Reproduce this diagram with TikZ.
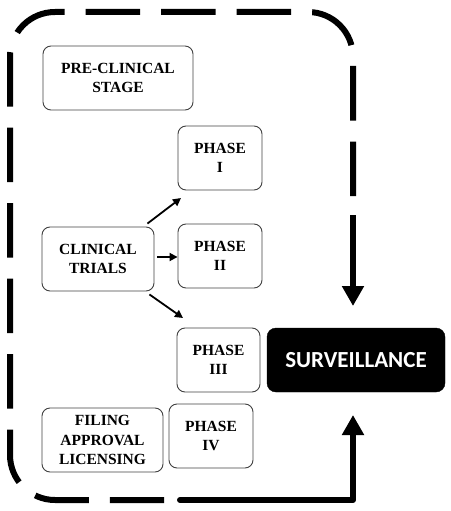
\documentclass[tikz,border=0pt]{standalone}
\usepackage{fontspec}
\setmainfont{Liberation Serif}
\newfontfamily\stagefont{Liberation Serif}[UprightFont={* Bold}]
\newfontfamily\survfont{Carlito}[UprightFont={* Bold}]
\usetikzlibrary{arrows.meta}
\begin{document}
\begin{tikzpicture}[x=1pt,y=-1pt,
  stagebox/.style={draw=black!75, line width=0.9pt, rounded corners=8pt, align=center,
    font=\stagefont\fontsize{15.5}{19.5}\selectfont, inner sep=0pt},
  survbox/.style={fill=black, draw=black, rounded corners=9pt, text=white,
    font=\survfont\fontsize{23}{26}\selectfont, inner sep=0pt},
  smallarrow/.style={line width=1.8pt, -{Triangle[width=8pt,length=8pt]}},
  framedash/.style={line width=6pt, dash pattern=on 54.5pt off 21pt},
  framesolid/.style={line width=6pt, line join=round},
  bigtip/.style={-{Triangle[width=21pt,length=20pt]}}
]
\useasboundingbox (0,0) rectangle (450,511);

\node[stagebox, minimum width=150pt, minimum height=64pt] (pre) at (118,78) {PRE-CLINICAL\\STAGE};
\node[stagebox, minimum width=112pt, minimum height=64pt] (clin) at (98,259) {CLINICAL\\TRIALS};
\node[stagebox, minimum width=121pt, minimum height=64pt] (fil) at (102.5,440) {FILING\\APPROVAL\\LICENSING};
\node[stagebox, minimum width=84pt, minimum height=64pt] (p1) at (220,158) {PHASE\\I};
\node[stagebox, minimum width=84pt, minimum height=64pt] (p2) at (220,256) {PHASE\\II};
\node[stagebox, minimum width=83pt, minimum height=64pt] (p3) at (218.5,360) {PHASE\\III};
\node[stagebox, minimum width=84pt, minimum height=64pt] (p4) at (211,436) {PHASE\\IV};
\node[survbox, minimum width=178pt, minimum height=64pt] (surv) at (356,360) {SURVEILLANCE};

\draw[smallarrow] (clin.north east) ++(-7,-3) coordinate (c1s) -- (181,198) coordinate (c1e);
\draw[smallarrow] (clin.east) ++(3,-2) -- (p2.west |- 0,257);
\draw[smallarrow] (clin.south east) ++(-5,3) -- (183,318) coordinate (c3e);

% dashed frame
\coordinate (fstart) at (353,196);
\coordinate (fend) at (164,500);
\draw[framedash] (fstart) -- (353,57) arc[start angle=0, end angle=-90, radius=45]
  -- (55,12) arc[start angle=270, end angle=180, radius=45]
  -- (10,455) arc[start angle=180, end angle=90, radius=45] -- (fend);
\coordinate (dstart) at (353,215);
\coordinate (dend) at (353,306);
\draw[framesolid, bigtip] (dstart) -- (dend);
\coordinate (sstart) at (180,500);
\coordinate (scorner) at (353,500);
\coordinate (send) at (353,415);
\draw[framesolid, line cap=round, bigtip] (sstart) -- (scorner) -- (send);
\end{tikzpicture}
\end{document}
